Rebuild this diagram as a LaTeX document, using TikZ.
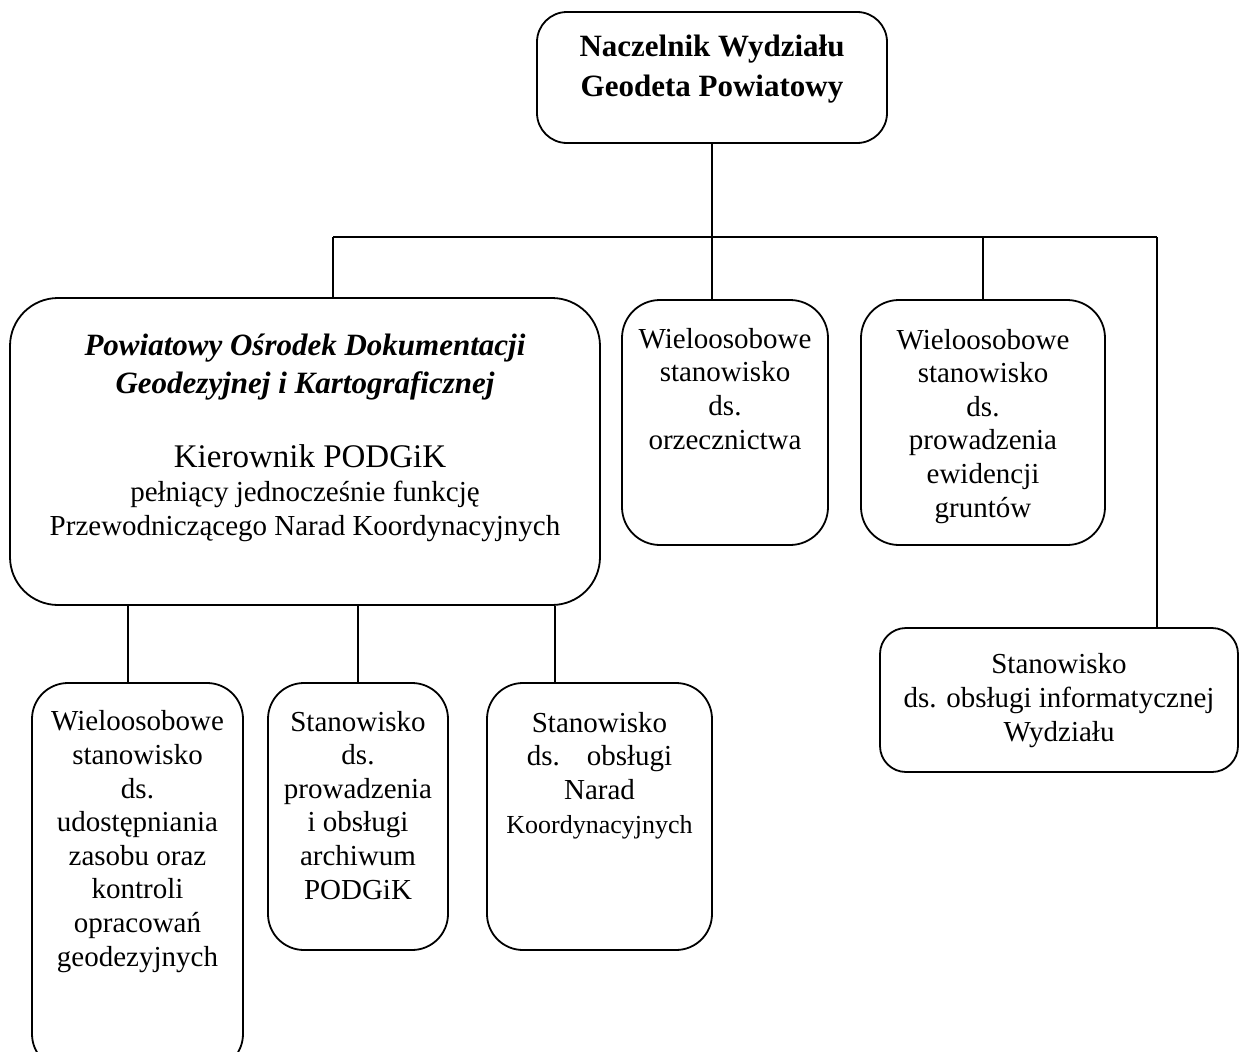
\documentclass[tikz,border=0pt]{standalone}
\usepackage{fontspec}
\setmainfont{Liberation Serif}
\begin{document}
\begin{tikzpicture}[x=1pt,y=-1pt,
  box/.style={draw, line width=1.8pt, rounded corners=#1, inner sep=0pt},
  box/.default=35pt,
  txt/.style={align=center, inner sep=0pt, anchor=base, font=\fontsize{29}{33.6}\selectfont},
  link/.style={line width=1.6pt}]
\useasboundingbox (0,0) rectangle (1240,1052);
\clip (0,0) rectangle (1240,1052);
% boxes
\node[box=30pt, minimum width=350pt, minimum height=131pt] (top) at (712,77.5) {};
\node[box=48pt, minimum width=590pt, minimum height=307pt] (pod) at (305,451.5) {};
\node[box=38pt, minimum width=206pt, minimum height=245pt] (orz) at (725,422.5) {};
\node[box=38pt, minimum width=244pt, minimum height=245pt] (ewi) at (983,422.5) {};
\node[box=26pt, minimum width=358pt, minimum height=144pt] (inf) at (1059,700) {};
\node[box=36pt, minimum width=211pt, minimum height=387pt] (udo) at (137.5,876.5) {};
\node[box=36pt, minimum width=180pt, minimum height=267pt] (arc) at (358,816.5) {};
\node[box=36pt, minimum width=225pt, minimum height=267pt] (nar) at (599.5,816.5) {};
% texts (anchor = baseline of the last line)
\node[txt, font=\bfseries\fontsize{31}{40}\selectfont] (topT) at (712,96) {Naczelnik Wydziału\\Geodeta Powiatowy};
\node[txt, font=\bfseries\itshape\fontsize{31}{38}\selectfont] (podT) at (305,393) {Powiatowy Ośrodek Dokumentacji\\Geodezyjnej i Kartograficznej};
\node[txt, font=\fontsize{33}{36}\selectfont] (podK) at (310,467) {Kierownik PODGiK};
\node[txt] (podF) at (305,535) {pełniący jednocześnie funkcję\\Przewodniczącego Narad Koordynacyjnych};
\node[txt] (orzT) at (725,449) {Wieloosobowe\\stanowisko\\ds.\\orzecznictwa};
\node[txt] (ewiT) at (983,517) {Wieloosobowe\\stanowisko\\ds.\\prowadzenia\\ewidencji\\gruntów};
\node[txt] (infT) at (1059,741) {Stanowisko\\ds. obsługi informatycznej\\Wydziału};
\node[txt] (udoT) at (137.5,966) {Wieloosobowe\\stanowisko\\ds.\\udostępniania\\zasobu oraz\\kontroli\\opracowań\\geodezyjnych};
\node[txt] (arcT) at (358,899) {Stanowisko\\ds.\\prowadzenia\\i obsługi\\archiwum\\PODGiK};
\node[txt] (narT) at (599.5,833) {Stanowisko\\ds.\hspace{0.6em} obsługi\\Narad\\{\fontsize{26}{34}\selectfont Koordynacyjnych}};
% connectors
\coordinate (barL) at (333,237);
\coordinate (barR) at (1157,237);
\coordinate (barE) at (983,237);
\coordinate (k1) at (128,0);
\coordinate (k2) at (358,0);
\coordinate (k3) at (555,0);
\draw[link] (top.south) -- (top.south |- barL);
\draw[link] (barL) -- (barR);
\draw[link] (barL) -- (barL |- pod.north);
\draw[link] (top.south |- barL) -- (top.south |- orz.north);
\draw[link] (barE) -- (ewi.north);
\draw[link] (barR) -- (barR |- inf.north);
\draw[link] (pod.south -| k1) -- (udo.north -| k1);
\draw[link] (pod.south -| k2) -- (arc.north -| k2);
\draw[link] (pod.south -| k3) -- (nar.north -| k3);
\end{tikzpicture}
\end{document}
